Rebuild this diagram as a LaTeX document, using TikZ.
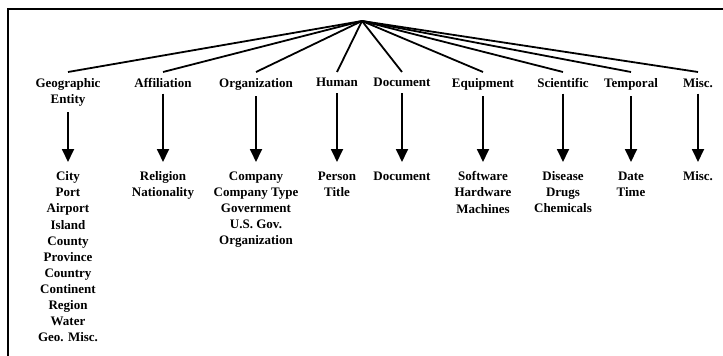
\documentclass[tikz,border=0pt]{standalone}
\usepackage{fontspec}
\setmainfont{Liberation Serif}
\usetikzlibrary{arrows.meta}
\tikzset{
    cat/.style={anchor=north, align=center, inner xsep=2pt, inner ysep=6pt,
        font=\bfseries\fontsize{13}{16}\selectfont},
    kind/.style={anchor=north, align=center, inner xsep=2pt, inner ysep=9.5pt,
        font=\bfseries\fontsize{13}{16.1}\selectfont},
    fan/.style={line width=1.8pt},
    down/.style={line width=1.8pt, -{Triangle[width=12pt,length=13pt]}}
}

\begin{document}
\begin{tikzpicture}[x=1pt, y=1pt]
        \useasboundingbox (0,0) rectangle (723,-356);
        \draw[line width=2pt] (723,-9) -- (8,-9) -- (8,-360);
        \coordinate (root) at (362,-21);
        % categories
        \node[cat] (geo)  at ( 68,-72) {Geographic\\Entity};
        \node[cat] (aff)  at (163,-72) {Affiliation};
        \node[cat] (org)  at (256,-72) {Organization};
        \node[cat] (hum)  at (337,-72) {Human};
        \node[cat] (doc)  at (402,-72) {Document};
        \node[cat] (equ)  at (483,-72) {Equipment};
        \node[cat] (sci)  at (563,-72) {Scientific};
        \node[cat] (tmp)  at (631,-72) {Temporal};
        \node[cat] (misc) at (698,-72) {Misc.};
        % subtypes
        \node[kind] (geoK)  at ( 68,-162) {City\\Port\\Airport\\Island\\County\\Province\\Country\\Continent\\Region\\Water\\Geo. Misc.};
        \node[kind] (affK)  at (163,-162) {Religion\\Nationality};
        \node[kind] (orgK)  at (256,-162) {Company\\Company Type\\Government\\U.S. Gov.\\Organization};
        \node[kind] (humK)  at (337,-162) {Person\\Title};
        \node[kind] (docK)  at (402,-162) {Document};
        \node[kind] (equK)  at (483,-162) {Software\\Hardware\\Machines};
        \node[kind] (sciK)  at (563,-162) {Disease\\Drugs\\Chemicals};
        \node[kind] (tmpK)  at (631,-162) {Date\\Time};
        \node[kind] (miscK) at (698,-162) {Misc.};
        % connectors
        \foreach \n in {geo,aff,org,hum,doc,equ,sci,tmp,misc}{
            \draw[fan] (root) -- (\n.north);
            \draw[down] (\n.south) -- (\n K.north);
        }
\end{tikzpicture}
\end{document}
